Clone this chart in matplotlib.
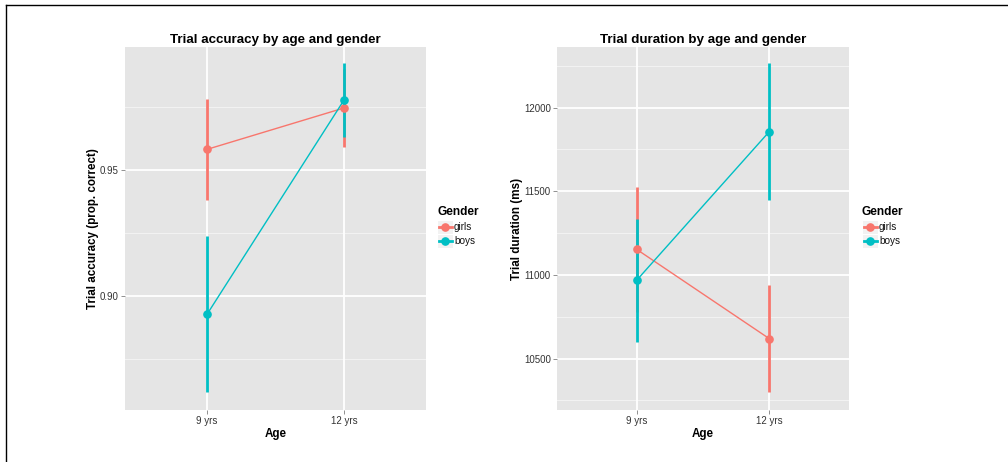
import matplotlib
matplotlib.use("Agg")
import matplotlib.pyplot as plt
from matplotlib.lines import Line2D
from matplotlib.patches import Rectangle

plt.rcParams['font.family'] = ['Liberation Sans', 'DejaVu Sans']

ages = ["9 yrs", "12 yrs"]
genders = ["girls", "boys"]
colors = {"girls": "#F8766D", "boys": "#00BFC4"}

# accuracy: mean, lower, upper
acc_mean = {"girls": [0.9583, 0.9747], "boys": [0.8929, 0.9778]}
acc_low = {"girls": [0.9382, 0.9591], "boys": [0.8619, 0.9631]}
acc_high = {"girls": [0.9783, 0.9903], "boys": [0.9238, 0.9925]}

# duration (ms)
dur_mean = {"girls": [11153, 10619], "boys": [10968, 11857]}
dur_low = {"girls": [10779, 10299], "boys": [10598, 11450]}
dur_high = {"girls": [11527, 10940], "boys": [11335, 12265]}

acc_major = [0.90, 0.95]
acc_minor = [0.875, 0.925, 0.975]
dur_major = [10500, 11000, 11500, 12000]
dur_minor = [10250, 10750, 11250, 11750, 12250]

W, H = 1008, 462
fig = plt.figure(figsize=(W / 100, H / 100), dpi=100)

def fx(x):
    return x / W

def fy(y):
    return 1 - y / H

def px_ax(x0, y0, x1, y1):
    return fig.add_axes([fx(x0), fy(y1), (x1 - x0) / W, (y1 - y0) / H])

def style(ax, major, minor, ylim, fmt):
    ax.set_facecolor("#E5E5E5")
    for s in ax.spines.values():
        s.set_visible(False)
    ax.set_xlim(0.4, 2.6)
    ax.set_ylim(*ylim)
    for v in minor:
        ax.axhline(v, color="#F2F2F2", lw=0.8, zorder=0)
    for v in major:
        ax.axhline(v, color="white", lw=1.3, zorder=0)
    for v in [1, 2]:
        ax.axvline(v, color="white", lw=1.3, zorder=0)
    ax.set_xticks([1, 2])
    ax.set_xticklabels(ages)
    ax.set_yticks(major)
    ax.set_yticklabels([fmt(v) for v in major])
    ax.tick_params(axis="both", length=3, width=0.6, color="#7F7F7F",
                   labelsize=7, labelcolor="#333333", pad=1.5)

def draw(ax, mean, low, high):
    xs = [1, 2]
    for g in genders:
        c = colors[g]
        ax.plot(xs, mean[g], color=c, lw=1.0, zorder=3)
        ax.vlines(xs, low[g], high[g], color=c, lw=2.0, zorder=3)
        ax.plot(xs, mean[g], "o", color=c, ms=5.2, mec=c, zorder=4)

def legend(x, y):
    fig.text(fx(x), fy(y), "Gender", fontsize=8.6, fontweight="bold", ha="left", va="center")
    for i, g in enumerate(genders):
        cy = y + 15 + i * 14
        fig.add_artist(Rectangle((fx(x + 0.5), fy(cy + 6.5)), 15 / W, 13 / H,
                                 transform=fig.transFigure, facecolor="#F2F2F2", edgecolor="none"))
        fig.add_artist(Line2D([fx(x + 1.5), fx(x + 14.5)], [fy(cy), fy(cy)], color=colors[g], lw=2.0,
                              transform=fig.transFigure))
        fig.add_artist(Line2D([fx(x + 8)], [fy(cy)], color=colors[g], marker="o", ms=5.2, lw=0,
                              transform=fig.transFigure))
        fig.text(fx(x + 17), fy(cy), g, fontsize=7.2, ha="left", va="center", color="#111111")

# Left panel
ax1 = px_ax(125, 47, 426, 410)
style(ax1, acc_major, acc_minor, (0.8549, 0.9989), lambda v: f"{v:.2f}")
draw(ax1, acc_mean, acc_low, acc_high)
ax1.set_title("Trial accuracy by age and gender", fontsize=9.6, fontweight="bold", pad=3)
ax1.set_xlabel("Age", fontsize=8.4, fontweight="bold", labelpad=1)
ax1.set_ylabel("Trial accuracy (prop. correct)", fontsize=8.4, fontweight="bold", labelpad=0.5)
legend(437, 212)

# Right panel
ax2 = px_ax(557, 47, 849, 410)
style(ax2, dur_major, dur_minor, (10193, 12362), lambda v: f"{v:d}")
draw(ax2, dur_mean, dur_low, dur_high)
ax2.set_title("Trial duration by age and gender", fontsize=9.6, fontweight="bold", pad=3)
ax2.set_xlabel("Age", fontsize=8.4, fontweight="bold", labelpad=1)
ax2.set_ylabel("Trial duration (ms)", fontsize=8.4, fontweight="bold", labelpad=0.5)
legend(862, 212)

# Border lines (top and left)
fig.add_artist(Line2D([fx(6), 1], [fy(5), fy(5)], color="black", lw=1.0, transform=fig.transFigure))
fig.add_artist(Line2D([fx(6), fx(6)], [0, fy(5)], color="black", lw=1.0, transform=fig.transFigure))

fig.savefig("out.png", dpi=100)
